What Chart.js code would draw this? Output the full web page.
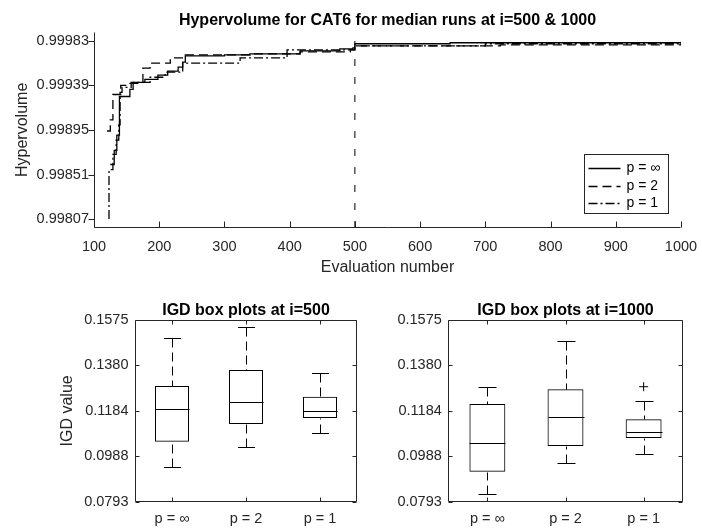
<!DOCTYPE html>
<html>
<head>
<meta charset="utf-8">
<script src="https://cdn.jsdelivr.net/npm/chart.js@4.4.0/dist/chart.umd.min.js"></script>
<style>
  body { margin: 0; background: #fff; }
  #wrap { position: relative; width: 702px; height: 532px; overflow: hidden; }
  canvas { position: absolute; }
</style>
</head>
<body>
<div id="wrap">
  <canvas id="hv" style="left:0;top:0" width="702" height="285"></canvas>
  <canvas id="box500" style="left:0;top:290px" width="370" height="242"></canvas>
  <canvas id="box1000" style="left:370px;top:290px" width="332" height="242"></canvas>
</div>
<script>
// hypervolume of the median runs (evaluation where the value changes, new value)
const evalsInf = [125, 131, 135, 139, 155, 160, 178, 198, 213, 229, 236, 240, 300, 339, 416, 477, 497, 500, 646, 799, 1000];
const hvInf = [0.99861, 0.99875, 0.99890, 0.99928, 0.99935, 0.99942, 0.99945, 0.99949, 0.99953, 0.99957, 0.99962, 0.99968,
               0.99969, 0.99970, 0.99973, 0.99975, 0.99976, 0.99980, 0.99981, 0.99981, 0.99982];
const evalsP2 = [120, 125, 129, 141, 152, 175, 186, 217, 240, 339, 416, 493, 500, 723, 1000];
const hvP2 = [0.99894, 0.99905, 0.99930, 0.99939, 0.99941, 0.99956, 0.99961, 0.99966, 0.99969, 0.99970, 0.99972, 0.99974,
              0.99978, 0.99979, 0.99981];
const evalsP1 = [122, 123, 129, 134, 138, 140, 143, 157, 186, 209, 236, 324, 396, 500, 700, 1000];
const hvP1 = [0.99808, 0.99856, 0.99871, 0.99885, 0.99900, 0.99932, 0.99937, 0.99942, 0.99947, 0.99952, 0.99961, 0.99966,
              0.99974, 0.99978, 0.99980, 0.99981];
const seriesNames = ['p = \u221e', 'p = 2', 'p = 1'];
const hvMin = 0.997984, hvMax = 0.999919;
const hvTicks = [0.99807, 0.99851, 0.99895, 0.99939, 0.99983];
const hvTickLabels = ['0.99807', '0.99851', '0.99895', '0.99939', '0.99983'];
const evalTicks = [100, 200, 300, 400, 500, 600, 700, 800, 900, 1000];
const markEval = 500;

// IGD box plots
const boxLabels = ['p = \u221e', 'p = 2', 'p = 1'];
const igdMin = 0.0793, igdMax = 0.1575;
const igdTicks = [0.0793, 0.09885, 0.1184, 0.13795, 0.1575];
const igdTickLabels = ['0.0793', '0.0988', '0.1184', '0.1380', '0.1575'];
// i=500
const lo500 = [0.09436, 0.10284, 0.10874];
const q1_500 = [0.10514, 0.11274, 0.11532];
const med500 = [0.11907, 0.12221, 0.11834];
const q3_500 = [0.12909, 0.13598, 0.12449];
const hi500 = [0.14962, 0.15462, 0.13456];
const out500 = [null, null, null];
// i=1000
const lo1000 = [0.08261, 0.09582, 0.09970];
const q1_1000 = [0.09221, 0.10327, 0.10671];
const med1000 = [0.10443, 0.11588, 0.10929];
const q3_1000 = [0.12135, 0.12767, 0.11476];
const hi1000 = [0.12853, 0.14859, 0.12276];
const out1000 = [null, null, 0.12879];

const fontFam = "'Liberation Sans', Arial, Helvetica, sans-serif";
Chart.defaults.font.family = fontFam;
Chart.defaults.color = '#262626';

const axisColor = '#262626';

// title centred over the plot area, like matlab
const plotTitle = {
  id: 'plotTitle',
  afterDraw(chart, args, opts) {
    const ctx = chart.ctx;
    const a = chart.chartArea;
    ctx.save();
    ctx.font = 'bold 16px ' + fontFam;
    ctx.fillStyle = '#000';
    ctx.textAlign = 'center';
    ctx.textBaseline = 'alphabetic';
    ctx.fillText(opts.text, (a.left + a.right) / 2, a.top - opts.gap);
    ctx.restore();
  }
};

// axes lines and ticks like matlab (inside ticks, optional full box)
const frameTicks = {
  id: 'frameTicks',
  afterDraw(chart, args, opts) {
    const ctx = chart.ctx;
    const a = chart.chartArea;
    const x = chart.scales.x, y = chart.scales.y;
    const L = Math.round(a.left) + 0.5, R = Math.round(a.right) - 0.5;
    const T = Math.round(a.top) + 0.5, B = Math.round(a.bottom) - 0.5;
    ctx.save();
    ctx.strokeStyle = axisColor;
    ctx.lineWidth = 1;
    ctx.beginPath();
    ctx.moveTo(L, T); ctx.lineTo(L, B); ctx.lineTo(R, B);
    if (opts.box) { ctx.lineTo(R, T); ctx.lineTo(L, T); }
    const len = opts.len;
    x.ticks.forEach(function (t, i) {
      const px = Math.round(x.getPixelForTick(i)) + 0.5;
      ctx.moveTo(px, B); ctx.lineTo(px, B - len);
      if (opts.box) { ctx.moveTo(px, T); ctx.lineTo(px, T + len); }
    });
    y.ticks.forEach(function (t, i) {
      const py = Math.round(y.getPixelForTick(i)) + 0.5;
      if (opts.yOut) { ctx.moveTo(L, py); ctx.lineTo(L - len, py); }
      else { ctx.moveTo(L, py); ctx.lineTo(L + len, py); }
      if (opts.box) { ctx.moveTo(R, py); ctx.lineTo(R - len, py); }
    });
    ctx.stroke();
    ctx.restore();
  }
};

// boxed legend inside the lower right of the plot
const innerLegend = {
  id: 'innerLegend',
  afterDraw(chart, args, opts) {
    if (!opts.show) return;
    const ctx = chart.ctx;
    const a = chart.chartArea;
    const w = 84, h = 59;
    const bx = Math.round(a.right - 13 - w) + 0.5, by = Math.round(a.bottom - 15 - h) + 0.5;
    ctx.save();
    ctx.fillStyle = '#fff';
    ctx.fillRect(bx, by, w, h);
    ctx.strokeStyle = axisColor;
    ctx.lineWidth = 1;
    ctx.strokeRect(bx, by, w, h);
    ctx.font = '14px ' + fontFam;
    ctx.textBaseline = 'middle';
    ctx.fillStyle = '#000';
    for (let i = 0; i < 3; i++) {
      const ds = chart.data.datasets[i];
      const ly = Math.round(by + 13.5 + i * 17.5) + 0.5;
      ctx.strokeStyle = '#000';
      ctx.lineWidth = ds.borderWidth;
      ctx.setLineDash(ds.borderDash || []);
      ctx.beginPath();
      ctx.moveTo(bx + 4, ly); ctx.lineTo(bx + 36, ly);
      ctx.stroke();
      ctx.setLineDash([]);
      ctx.fillText(ds.label, bx + 42, ly);
    }
    ctx.restore();
  }
};

// whiskers, caps and median for the box datasets
const boxWhiskers = {
  id: 'boxWhiskers',
  afterDatasetsDraw(chart) {
    const ds = chart.data.datasets[0];
    if (!ds.med) return;
    const ctx = chart.ctx;
    const y = chart.scales.y;
    const meta = chart.getDatasetMeta(0);
    ctx.save();
    ctx.strokeStyle = '#000';
    ctx.lineWidth = 1;
    ds.med.forEach(function (m, i) {
      const bar = meta.data[i];
      const cx = Math.round(bar.x) + 0.5;
      const half = bar.width / 2;
      const py = function (v) { return Math.round(y.getPixelForValue(v)) + 0.5; };
      ctx.setLineDash([]);
      ctx.beginPath();
      ctx.moveTo(cx - half, py(m)); ctx.lineTo(cx + half, py(m));
      ctx.moveTo(cx - half / 2, py(ds.hi[i])); ctx.lineTo(cx + half / 2, py(ds.hi[i]));
      ctx.moveTo(cx - half / 2, py(ds.lo[i])); ctx.lineTo(cx + half / 2, py(ds.lo[i]));
      ctx.stroke();
      ctx.setLineDash([9, 5]);
      ctx.beginPath();
      ctx.moveTo(cx, py(ds.hi[i])); ctx.lineTo(cx, py(ds.q3[i]));
      ctx.moveTo(cx, py(ds.lo[i])); ctx.lineTo(cx, py(ds.q1[i]));
      ctx.stroke();
    });
    ctx.restore();
  }
};

function pts(xs, ys) {
  return xs.map(function (v, i) { return { x: v, y: ys[i] }; });
}

new Chart(document.getElementById('hv'), {
  type: 'line',
  data: {
    datasets: [
      { label: seriesNames[0], data: pts(evalsInf, hvInf), stepped: true, borderColor: '#000', borderWidth: 1.3, pointRadius: 0 },
      { label: seriesNames[1], data: pts(evalsP2, hvP2), stepped: true, borderColor: '#000', borderWidth: 1.3, borderDash: [9, 5], pointRadius: 0 },
      { label: seriesNames[2], data: pts(evalsP1, hvP1), stepped: true, borderColor: '#000', borderWidth: 1.3, borderDash: [9, 3, 2, 3], pointRadius: 0 },
      { label: 'i=500', data: [{ x: markEval, y: hvMin }, { x: markEval, y: hvMax }], borderColor: '#000', borderWidth: 1, borderDash: [7, 11], pointRadius: 0 }
    ]
  },
  options: {
    responsive: false,
    animation: false,
    layout: { padding: { left: 0, right: 21, top: 31.7, bottom: 0 } },
    plugins: {
      legend: { display: false },
      tooltip: { enabled: false },
      title: { display: false },
      plotTitle: { text: 'Hypervolume for CAT6 for median runs at i=500 & 1000', gap: 7 },
      frameTicks: { box: false, len: 6, yOut: true },
      innerLegend: { show: true }
    },
    scales: {
      x: {
        type: 'linear',
        min: 100,
        max: 1000,
        grid: { display: false, drawTicks: true, tickLength: 10 },
        border: { display: false },
        afterBuildTicks: function (s) { s.ticks = evalTicks.map(function (v) { return { value: v }; }); },
        ticks: { font: { size: 14.5 }, padding: 0, maxRotation: 0, callback: function (v) { return String(v); } },
        title: { display: true, text: 'Evaluation number', font: { size: 16 }, padding: { top: 0, bottom: 7.5 } },
        afterFit: function (s) { s.height = 57; }
      },
      y: {
        type: 'linear',
        min: hvMin,
        max: hvMax,
        grid: { display: false, drawTicks: false },
        border: { display: false },
        afterBuildTicks: function (s) { s.ticks = hvTicks.map(function (v) { return { value: v }; }); },
        ticks: {
          font: { size: 14.5 },
          padding: 5,
          callback: function (v, i) { return hvTickLabels[i]; }
        },
        title: { display: true, text: 'Hypervolume', font: { size: 16 }, padding: { top: 13, bottom: 0 } },
        afterFit: function (s) { s.width = 94; }
      }
    }
  },
  plugins: [frameTicks, innerLegend, plotTitle]
});

function boxChart(id, title, lo, q1, med, q3, hi, out, yWidth, padRight, showYTitle) {
  new Chart(document.getElementById(id), {
    type: 'bar',
    data: {
      labels: boxLabels,
      datasets: [
        {
          data: q1.map(function (v, i) { return [v, q3[i]]; }),
          backgroundColor: 'rgba(0,0,0,0)',
          borderColor: '#000',
          borderWidth: 1,
          borderSkipped: false,
          categoryPercentage: 1,
          barPercentage: 0.46,
          lo: lo, q1: q1, med: med, q3: q3, hi: hi
        },
        {
          type: 'line',
          data: out,
          showLine: false,
          pointStyle: 'cross',
          pointRadius: 4.5,
          borderColor: '#000',
          borderWidth: 1
        }
      ]
    },
    options: {
      responsive: false,
      animation: false,
      layout: { padding: { left: 0, right: padRight, top: 30, bottom: 0 } },
      plugins: {
        legend: { display: false },
        tooltip: { enabled: false },
        title: { display: false },
        plotTitle: { text: title, gap: 5 },
        frameTicks: { box: true, len: 4, yOut: false }
      },
      scales: {
        x: {
          grid: { display: false, drawTicks: true, tickLength: 9 },
          border: { display: false },
          ticks: { font: { size: 14.5 }, padding: 0 },
          afterFit: function (s) { s.height = 30.3; }
        },
        y: {
          min: igdMin,
          max: igdMax,
          grid: { display: false, drawTicks: false },
          border: { display: false },
          afterBuildTicks: function (s) { s.ticks = igdTicks.map(function (v) { return { value: v }; }); },
          ticks: {
            font: { size: 14.5 },
            padding: 6.5,
            callback: function (v, i) { return igdTickLabels[i]; }
          },
          title: { display: showYTitle, text: 'IGD value', font: { size: 16 }, padding: { top: 58.4, bottom: 0 } },
          afterFit: function (s) { s.width = yWidth; }
        }
      }
    },
    plugins: [frameTicks, boxWhiskers, plotTitle]
  });
}

boxChart('box500', 'IGD box plots at i=500', lo500, q1_500, med500, q3_500, hi500, out500, 135, 13, true);
boxChart('box1000', 'IGD box plots at i=1000', lo1000, q1_1000, med1000, q3_1000, hi1000, out1000, 78.3, 19.3, false);
</script>
</body>
</html>
